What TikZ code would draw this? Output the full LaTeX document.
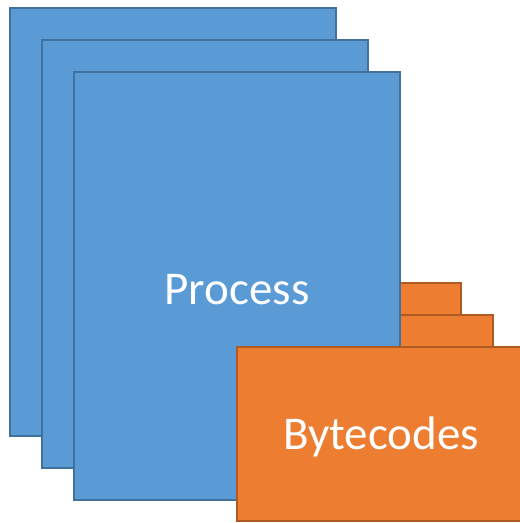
\documentclass[tikz,border=0pt]{standalone}
\usepackage{fontspec}
\setmainfont{Carlito}
\definecolor{pblue}{HTML}{5B9BD5}
\definecolor{pblueb}{HTML}{41719C}
\definecolor{porange}{HTML}{ED7D31}
\definecolor{porangeb}{HTML}{AE5A21}
\begin{document}
\begin{tikzpicture}[x=1pt,y=-1pt,
  bluebox/.style={fill=pblue,draw=pblueb,line width=2pt},
  orangebox/.style={fill=porange,draw=porangeb,line width=2pt},
  lbl/.style={text=white,font=\fontsize{47}{56}\selectfont}]
\useasboundingbox (0,0) rectangle (520,523);
\begin{scope}
\clip (0,0) rectangle (520,523);
\draw[bluebox] (10,8) rectangle (336,436);
\draw[bluebox] (42,40) rectangle (368,468);
\draw[orangebox] (173,283) rectangle (461,457);
\draw[orangebox] (205,315) rectangle (493,489);
\draw[bluebox] (74,72) rectangle (400,500);
\node[lbl] (proc) at (237,290) {Process};
\draw[orangebox] (237,347) rectangle (525,521);
\node[lbl] (byte) at (381,437) {Bytecodes};
\end{scope}
\end{tikzpicture}
\end{document}
